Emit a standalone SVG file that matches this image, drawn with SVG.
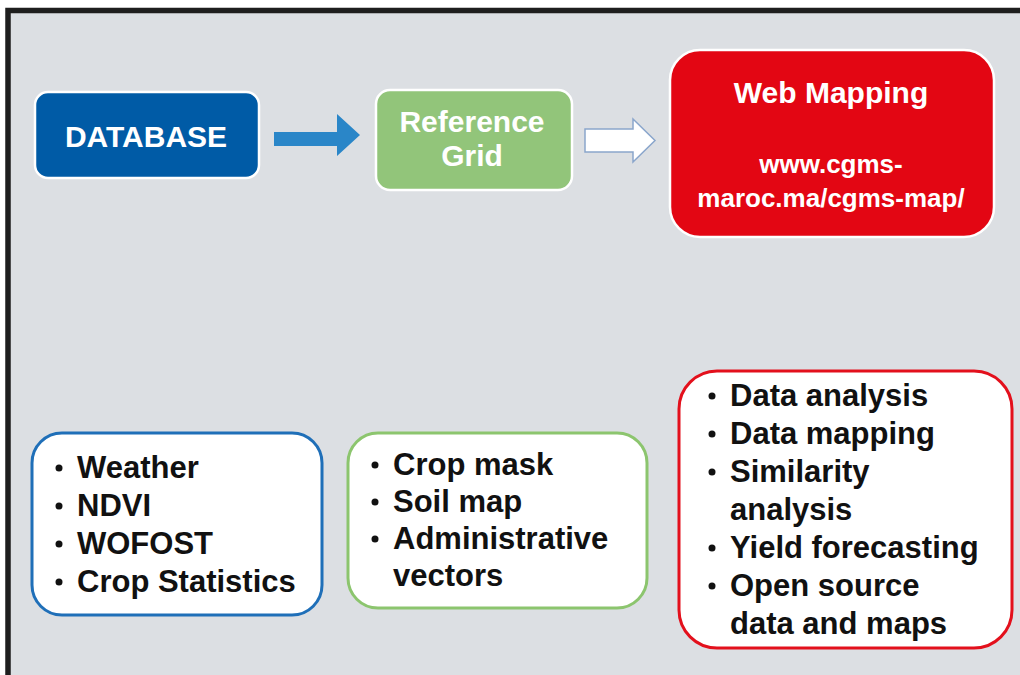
<svg xmlns="http://www.w3.org/2000/svg" width="1020" height="675" viewBox="0 0 1020 675">
<style>
.t{font-family:"Liberation Sans",Arial,sans-serif;font-weight:bold}
.w{fill:#ffffff;text-anchor:middle}
.b{fill:#111111;font-size:31px}
.dot{fill:#111111}
</style>
<rect width="1020" height="675" fill="#ffffff"/>
<rect x="8" y="10.5" width="1030" height="690" fill="#dcdfe3" stroke="#1e1e1e" stroke-width="5.5"/>
<g id="connectors">
<path d="M274,132 H337 V114 L360,135 L337,156 V146 H274 Z" fill="#2a86c8"/>
<path d="M585,129 H633 V119 L655,140.5 L633,162 V152 H585 Z" fill="#ffffff" stroke="#8aa6cc" stroke-width="1.5"/>
</g>
<g id="database">
<rect x="35" y="92" width="224" height="86" rx="13" fill="#005ba6" stroke="#ffffff" stroke-width="2.5"/>
<text class="t w" x="146" y="147" font-size="30">DATABASE</text>
</g>
<g id="reference-grid">
<rect x="376" y="90" width="196" height="100" rx="14" fill="#92c57a" stroke="#ffffff" stroke-width="2.5"/>
<text class="t w" x="472" y="132" font-size="30">Reference</text>
<text class="t w" x="472" y="166" font-size="30">Grid</text>
</g>
<g id="web-mapping">
<rect x="670" y="50" width="324" height="187" rx="30" fill="#e30613" stroke="#ffffff" stroke-width="2.5"/>
<text class="t w" x="831" y="103" font-size="30">Web Mapping</text>
<text class="t w" x="831" y="173" font-size="26">www.cgms-</text>
<text class="t w" x="831" y="207" font-size="26">maroc.ma/cgms-map/</text>
</g>
<g id="database-items">
<rect x="32" y="433" width="290" height="182" rx="30" fill="#ffffff" stroke="#1f6fb8" stroke-width="3"/>
<circle class="dot" cx="59" cy="468" r="3.5"/>
<text class="t b" x="77" y="478">Weather</text>
<circle class="dot" cx="59" cy="506" r="3.5"/>
<text class="t b" x="77" y="516">NDVI</text>
<circle class="dot" cx="59" cy="544" r="3.5"/>
<text class="t b" x="77" y="554">WOFOST</text>
<circle class="dot" cx="59" cy="582" r="3.5"/>
<text class="t b" x="77" y="592">Crop Statistics</text>
</g>
<g id="grid-items">
<rect x="348" y="433" width="299" height="175" rx="30" fill="#ffffff" stroke="#8cc56e" stroke-width="3"/>
<circle class="dot" cx="375" cy="465" r="3.5"/>
<text class="t b" x="393" y="475">Crop mask</text>
<circle class="dot" cx="375" cy="502" r="3.5"/>
<text class="t b" x="393" y="512">Soil map</text>
<circle class="dot" cx="375" cy="539" r="3.5"/>
<text class="t b" x="393" y="549">Administrative</text>
<text class="t b" x="393" y="586">vectors</text>
</g>
<g id="mapping-items">
<rect x="679" y="371" width="333" height="277" rx="38" fill="#ffffff" stroke="#e3101c" stroke-width="3"/>
<circle class="dot" cx="712" cy="396" r="3.5"/>
<text class="t b" x="730" y="406">Data analysis</text>
<circle class="dot" cx="712" cy="434" r="3.5"/>
<text class="t b" x="730" y="444">Data mapping</text>
<circle class="dot" cx="712" cy="472" r="3.5"/>
<text class="t b" x="730" y="482">Similarity</text>
<text class="t b" x="730" y="520">analysis</text>
<circle class="dot" cx="712" cy="548" r="3.5"/>
<text class="t b" x="730" y="558">Yield forecasting</text>
<circle class="dot" cx="712" cy="586" r="3.5"/>
<text class="t b" x="730" y="596">Open source</text>
<text class="t b" x="730" y="634">data and maps</text>
</g>
</svg>
